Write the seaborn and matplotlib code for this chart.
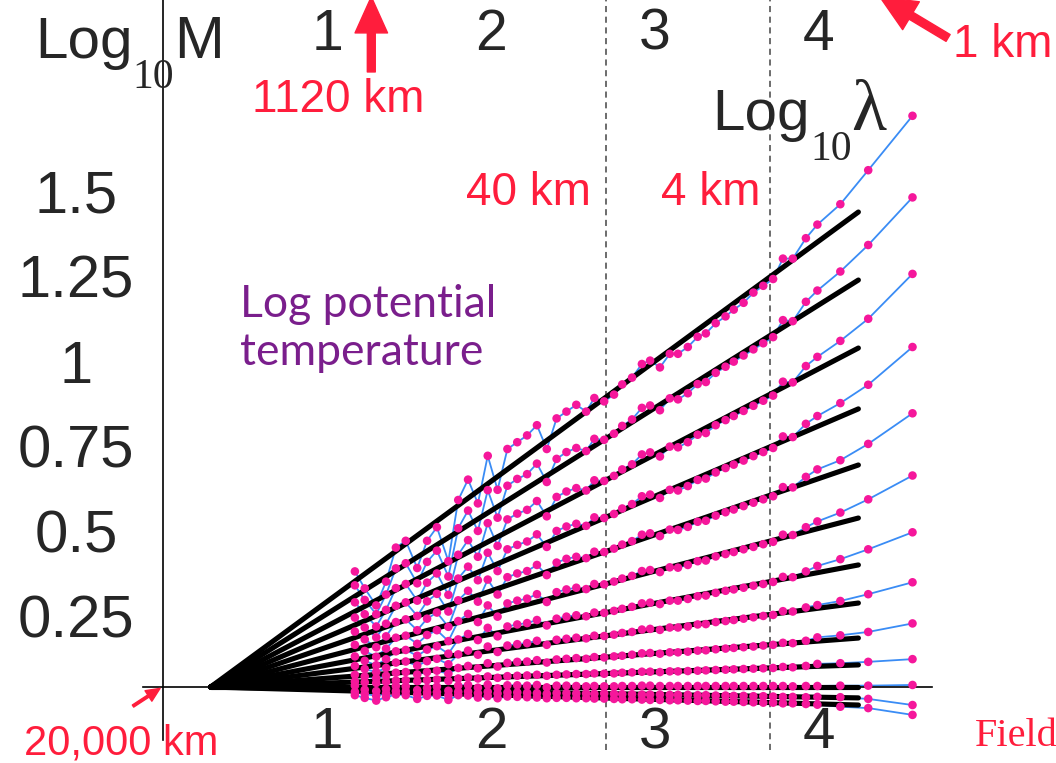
import matplotlib
matplotlib.use("Agg")
import matplotlib.pyplot as plt
import matplotlib.transforms as mtransforms
import pandas as pd
import seaborn as sns

sns.set_style("white")
plt.rcParams["font.family"] = ["Liberation Sans", "DejaVu Sans"]

# log10 of scale ratio lambda (outer scale 20,000 km)
log_lam = [1.17, 1.23, 1.30, 1.36, 1.42, 1.48, 1.55, 1.61, 1.67, 1.74,
           1.80, 1.86, 1.92, 1.98, 2.04, 2.10, 2.16, 2.22, 2.28, 2.34,
           2.40, 2.46, 2.52, 2.58, 2.63, 2.69, 2.75, 2.80, 2.86, 2.92,
           2.97, 3.03, 3.09, 3.14, 3.20, 3.26, 3.31, 3.37, 3.43, 3.48,
           3.54, 3.60, 3.66, 3.72, 3.78, 3.84, 3.92, 3.99, 4.13, 4.30,
           4.57]

# log10 trace moments, one list per moment order (top to bottom)
m01 = [0.34, 0.29, 0.24, 0.31, 0.41, 0.43, 0.35, 0.43, 0.47, 0.37,
       0.55, 0.61, 0.54, 0.68, 0.58, 0.70, 0.72, 0.74, 0.77, 0.70,
       0.79, 0.81, 0.83, 0.81, 0.85, 0.84, 0.86, 0.89, 0.91, 0.95,
       0.96, 0.94, 0.98, 0.98, 1.00, 1.03, 1.04, 1.07, 1.09, 1.11,
       1.13, 1.16, 1.18, 1.20, 1.26, 1.26, 1.32, 1.36, 1.42, 1.52,
       1.68]
m02 = [0.299, 0.256, 0.214, 0.272, 0.349, 0.364, 0.305, 0.368, 0.401, 0.325,
       0.467, 0.519, 0.459, 0.579, 0.498, 0.592, 0.612, 0.626, 0.657, 0.603,
       0.671, 0.691, 0.703, 0.694, 0.730, 0.727, 0.745, 0.768, 0.787, 0.821,
       0.828, 0.814, 0.849, 0.846, 0.864, 0.891, 0.897, 0.924, 0.942, 0.957,
       0.975, 0.993, 1.011, 1.029, 1.079, 1.076, 1.133, 1.166, 1.222, 1.300,
       1.440]
m03 = [0.249, 0.214, 0.178, 0.227, 0.291, 0.303, 0.254, 0.307, 0.334, 0.271,
       0.389, 0.432, 0.383, 0.482, 0.415, 0.493, 0.510, 0.521, 0.547, 0.502,
       0.559, 0.575, 0.585, 0.578, 0.608, 0.606, 0.621, 0.640, 0.655, 0.684,
       0.690, 0.678, 0.707, 0.705, 0.720, 0.742, 0.747, 0.770, 0.785, 0.797,
       0.812, 0.827, 0.842, 0.857, 0.898, 0.896, 0.944, 0.971, 1.018, 1.083,
       1.215]
m04 = [0.204, 0.175, 0.146, 0.186, 0.239, 0.249, 0.209, 0.252, 0.274, 0.222,
       0.319, 0.354, 0.314, 0.395, 0.341, 0.405, 0.418, 0.428, 0.449, 0.412,
       0.459, 0.472, 0.480, 0.474, 0.499, 0.497, 0.509, 0.525, 0.538, 0.561,
       0.566, 0.556, 0.580, 0.578, 0.591, 0.609, 0.613, 0.631, 0.644, 0.654,
       0.666, 0.679, 0.691, 0.703, 0.737, 0.735, 0.774, 0.797, 0.835, 0.889,
       1.000]
m05 = [0.163, 0.140, 0.117, 0.149, 0.191, 0.199, 0.167, 0.201, 0.219, 0.177,
       0.255, 0.283, 0.251, 0.316, 0.272, 0.323, 0.334, 0.341, 0.359, 0.329,
       0.366, 0.377, 0.383, 0.379, 0.398, 0.397, 0.407, 0.419, 0.429, 0.448,
       0.452, 0.444, 0.463, 0.462, 0.471, 0.486, 0.489, 0.504, 0.514, 0.522,
       0.532, 0.542, 0.552, 0.561, 0.588, 0.587, 0.618, 0.640, 0.667, 0.715,
       0.805]
m06 = [0.124, 0.106, 0.089, 0.113, 0.145, 0.151, 0.127, 0.153, 0.167, 0.135,
       0.194, 0.215, 0.191, 0.240, 0.207, 0.246, 0.254, 0.260, 0.273, 0.250,
       0.279, 0.287, 0.292, 0.288, 0.303, 0.302, 0.310, 0.319, 0.327, 0.341,
       0.344, 0.338, 0.352, 0.351, 0.359, 0.370, 0.372, 0.384, 0.391, 0.397,
       0.405, 0.412, 0.420, 0.427, 0.448, 0.447, 0.470, 0.487, 0.513, 0.552,
       0.622]
m07 = [0.090, 0.077, 0.064, 0.082, 0.105, 0.109, 0.092, 0.110, 0.120, 0.098,
       0.140, 0.156, 0.138, 0.174, 0.149, 0.178, 0.184, 0.188, 0.197, 0.181,
       0.201, 0.207, 0.211, 0.208, 0.219, 0.218, 0.224, 0.230, 0.236, 0.246,
       0.248, 0.244, 0.254, 0.254, 0.259, 0.267, 0.269, 0.277, 0.283, 0.287,
       0.292, 0.298, 0.303, 0.309, 0.324, 0.323, 0.340, 0.356, 0.376, 0.405,
       0.455]
m08 = [0.062, 0.053, 0.044, 0.056, 0.072, 0.075, 0.063, 0.076, 0.083, 0.067,
       0.096, 0.107, 0.095, 0.119, 0.103, 0.122, 0.126, 0.129, 0.136, 0.124,
       0.139, 0.142, 0.145, 0.143, 0.151, 0.150, 0.154, 0.159, 0.162, 0.169,
       0.171, 0.168, 0.175, 0.175, 0.178, 0.184, 0.185, 0.191, 0.194, 0.197,
       0.201, 0.205, 0.209, 0.212, 0.223, 0.222, 0.234, 0.241, 0.253, 0.273,
       0.308]
m09 = [0.036, 0.031, 0.026, 0.033, 0.042, 0.044, 0.037, 0.044, 0.048, 0.039,
       0.056, 0.062, 0.055, 0.070, 0.060, 0.071, 0.074, 0.075, 0.079, 0.072,
       0.081, 0.083, 0.085, 0.083, 0.088, 0.087, 0.090, 0.092, 0.095, 0.099,
       0.100, 0.098, 0.102, 0.102, 0.104, 0.107, 0.108, 0.111, 0.113, 0.115,
       0.117, 0.119, 0.122, 0.124, 0.130, 0.129, 0.136, 0.146, 0.152, 0.162,
       0.187]
m10 = [0.016, 0.014, 0.012, 0.015, 0.019, 0.020, 0.017, 0.020, 0.022, 0.018,
       0.025, 0.028, 0.025, 0.031, 0.027, 0.032, 0.033, 0.034, 0.036, 0.033,
       0.036, 0.037, 0.038, 0.038, 0.040, 0.039, 0.040, 0.042, 0.043, 0.045,
       0.045, 0.044, 0.046, 0.046, 0.047, 0.048, 0.049, 0.050, 0.051, 0.052,
       0.053, 0.054, 0.055, 0.056, 0.059, 0.058, 0.062, 0.068, 0.070, 0.074,
       0.082]
m11 = [0.004, -0.008, -0.012, -0.006, 0.003, 0.002, -0.009, -0.003, 0.001, -0.011,
       0.004, 0.006, -0.002, 0.007, -0.004, 0.005, 0.005, 0.004, 0.006, -0.001,
       0.004, 0.004, 0.003, 0.002, 0.003, 0.002, 0.002, 0.003, 0.003, 0.004,
       0.004, 0.003, 0.003, 0.003, 0.003, 0.003, 0.003, 0.003, 0.003, 0.003,
       0.003, 0.003, 0.003, 0.003, 0.003, 0.002, 0.003, 0.003, 0.004, 0.004,
       0.006]
m12 = [-0.014, -0.020, -0.026, -0.019, -0.012, -0.013, -0.022, -0.016, -0.015, -0.024,
       -0.014, -0.013, -0.018, -0.014, -0.019, -0.016, -0.016, -0.017, -0.018, -0.020,
       -0.018, -0.018, -0.019, -0.019, -0.020, -0.019, -0.020, -0.021, -0.021, -0.022,
       -0.022, -0.022, -0.023, -0.023, -0.023, -0.024, -0.024, -0.025, -0.025, -0.026,
       -0.026, -0.027, -0.027, -0.028, -0.029, -0.029, -0.030, -0.029, -0.030, -0.035,
       -0.053]
m13 = [-0.024, -0.032, -0.040, -0.030, -0.022, -0.024, -0.035, -0.026, -0.025, -0.038,
       -0.024, -0.025, -0.031, -0.027, -0.033, -0.028, -0.029, -0.030, -0.031, -0.033,
       -0.032, -0.032, -0.033, -0.033, -0.034, -0.034, -0.035, -0.036, -0.036, -0.037,
       -0.038, -0.038, -0.039, -0.039, -0.040, -0.041, -0.041, -0.042, -0.043, -0.043,
       -0.044, -0.045, -0.046, -0.046, -0.048, -0.048, -0.050, -0.052, -0.058, -0.062,
       -0.082]
moments = [m01, m02, m03, m04, m05, m06, m07, m08, m09, m10, m11, m12, m13]

# regression lines: all start from the outer scale and end at fit_stop
fit_start = 0.29
fit_stop = 4.24
fit_end = [1.397, 1.197, 0.997, 0.818, 0.653, 0.497, 0.359, 0.247, 0.144,
           0.065, 0.0, -0.032, -0.053]

marks = [2.70, 3.70]          # 40 km and 4 km
x_ticks = [1, 2, 3, 4]
y_ticks = [0.25, 0.5, 0.75, 1, 1.25, 1.5]
y_labels = ["0.25", "0.5", "0.75", "1", "1.25", "1.5"]

pink = "#f5179b"
blue = "#3a8cf5"
red = "#ff1d3c"
purple = "#7a1e8c"

rows = []
for k, vals in enumerate(moments):
    for x, y in zip(log_lam, vals, strict=True):
        rows.append((k, x, y))
pts = pd.DataFrame(rows, columns=["q", "log_lam", "log_M"])

frows = []
for k, e in enumerate(fit_end):
    frows.append((k, fit_start, 0.0))
    frows.append((k, fit_stop, e))
fits = pd.DataFrame(frows, columns=["q", "log_lam", "log_M"])

fig = plt.figure(figsize=(10.56, 7.63), dpi=100)
ax = fig.add_axes([0, 0, 1, 1])
ax.set_xlim(-0.994, 5.445)
ax.set_ylim(-0.2235, 2.0206)

sns.lineplot(data=pts, x="log_lam", y="log_M", units="q", estimator=None,
             sort=False, color=blue, lw=1.3, ax=ax, zorder=2, legend=False)
sns.lineplot(data=fits, x="log_lam", y="log_M", units="q", estimator=None,
             sort=False, color="black", lw=3.7, ax=ax, zorder=3, legend=False)
sns.scatterplot(data=pts, x="log_lam", y="log_M", color=pink, s=38,
                edgecolor="none", ax=ax, zorder=4, legend=False)

for m in marks:
    ax.axvline(m, ymin=0.017, ymax=1, color="#444444", lw=1.1,
               dashes=(4, 3), zorder=1)

# axes through the origin
for s in ["top", "right"]:
    ax.spines[s].set_visible(False)
ax.spines["left"].set_position(("data", 0))
ax.spines["bottom"].set_position(("data", 0))
ax.spines["left"].set_bounds(-0.156, 2.03)
ax.spines["bottom"].set_bounds(-0.12, 4.69)
for s in ["left", "bottom"]:
    ax.spines[s].set_linewidth(1.2)
    ax.spines[s].set_color("black")

ax.set_xticks(x_ticks, [str(v) for v in x_ticks])
ax.set_xticks([0.2, 0.4, 0.6, 0.8, 4.2, 4.4, 4.6], minor=True)
ax.set_yticks(y_ticks, [""] * len(y_ticks))
ax.set_yticks([-0.15, -0.1, -0.05, 0.05, 0.1, 0.15, 0.2, 0.3, 0.35, 0.4, 0.45,
               0.55, 0.6, 0.65, 0.7, 0.8, 0.85, 0.9, 0.95, 1.05, 1.1, 1.15,
               1.2, 1.3, 1.35, 1.4, 1.45, 1.55, 1.6, 1.65, 1.7, 1.75, 1.8,
               1.85, 1.9, 1.95], minor=True)
ax.tick_params(axis="both", which="both", direction="in", length=4,
               width=1, color="black")
ax.tick_params(axis="x", which="major", labelsize=42, pad=14)
ax.set_xlabel("")
ax.set_ylabel("")

shift = mtransforms.ScaledTranslation(0, -0.20, fig.dpi_scale_trans)
for v, lab in zip(y_ticks, y_labels):
    ax.text(-0.53, v, lab, transform=ax.transData + shift, ha="center",
            va="center", fontsize=43)

for v in x_ticks:
    ax.text(v, 1.918, str(v), ha="center", va="center", fontsize=41)


def log10_label(x, y, tail, tail_size, tail_family):
    # "Log" with a deep serif subscript "10", then the quantity symbol
    t1 = ax.text(x, y, "Log", fontsize=42, va="baseline")
    t2 = ax.annotate("10", xy=(1.0, y), xycoords=(t1, "data"), fontsize=30,
                     family="Liberation Serif", va="top", ha="left",
                     annotation_clip=False)
    ax.annotate(tail, xy=(1.0, y), xycoords=(t2, "data"), fontsize=tail_size,
                family=tail_family, va="baseline", ha="left",
                annotation_clip=False)


log10_label(-0.78, 1.85, "M", 43, "Liberation Sans")
log10_label(3.35, 1.638, "\u03bb", 52, "Liberation Serif")

ax.text(0.47, 1.185, "Log potential\ntemperature", color=purple,
        fontsize=32, family="Lato", va="top", ha="left", linespacing=1.2)

lab_kw = dict(color=red, fontsize=33, ha="center", va="center")
ax.text(1.07, 1.726, "1120 km", **lab_kw)
ax.text(2.226, 1.453, "40 km", **lab_kw)
ax.text(3.34, 1.453, "4 km", **lab_kw)
ax.text(5.12, 1.888, "1 km", **lab_kw)
ax.text(-0.256, -0.165, "20,000 km", color=red, fontsize=30,
        ha="center", va="center")
ax.text(4.95, -0.147, "Field", color=red, fontsize=29, ha="left",
        va="center", family="Liberation Serif")

big = dict(arrowstyle="simple,head_length=1.0,head_width=0.9,tail_width=0.22",
           color=red, mutation_scale=26, shrinkA=0, shrinkB=0)
ax.annotate("", xy=(1.27, 2.03), xytext=(1.27, 1.809), arrowprops=big,
            annotation_clip=False)
ax.annotate("", xy=(4.372, 2.029), xytext=(4.787, 1.909), arrowprops=big,
            annotation_clip=False)
ax.annotate("", xy=(-0.018, -0.004), xytext=(-0.183, -0.056),
            arrowprops=dict(arrowstyle="simple,head_length=1.0,head_width=0.9,"
                            "tail_width=0.18", color=red, mutation_scale=10,
                            shrinkA=0, shrinkB=0),
            annotation_clip=False)

fig.savefig("out.png", dpi=100)
